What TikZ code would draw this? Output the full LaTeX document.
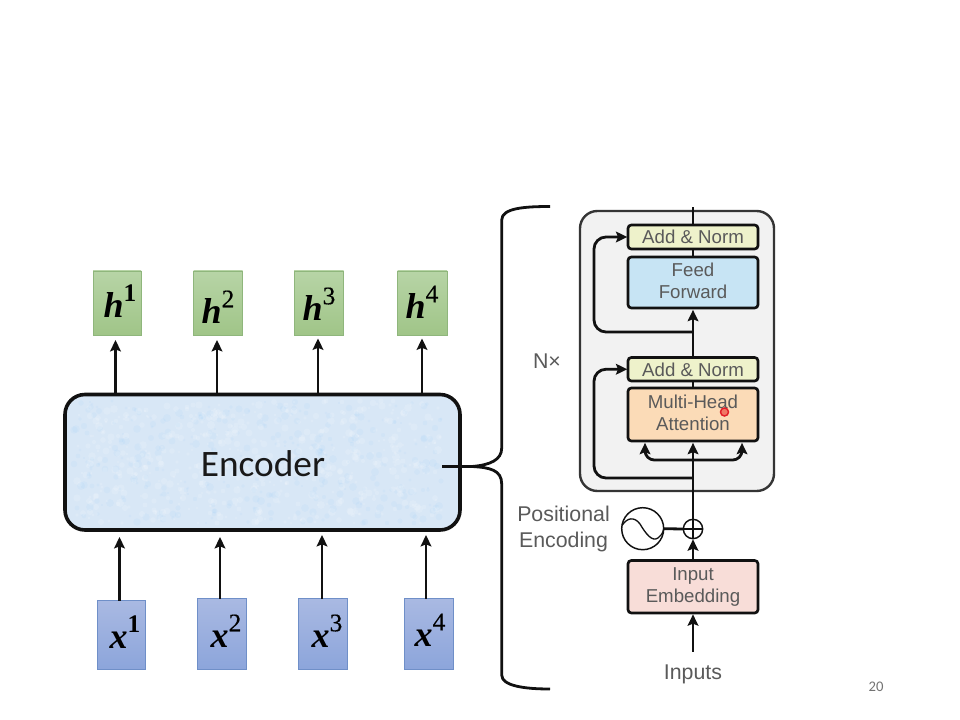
\documentclass[tikz,border=0pt]{standalone}
\usepackage{fontspec}
\setmainfont{Liberation Sans}
\newfontfamily\carl{Carlito}
\newfontfamily\serifb{Liberation Serif}
\newfontfamily\serifm[FakeBold=0.5]{Liberation Serif}
\usetikzlibrary{arrows.meta,calc,shapes.geometric}
\definecolor{linek}{HTML}{111111}
\definecolor{txtg}{HTML}{5A5A5A}
\tikzset{
  arr/.style={draw=linek,line width=2.1pt,-{Stealth[length=8.5pt,width=8pt,inset=1.5pt]}},
  plainln/.style={draw=linek,line width=2.1pt},
  hbox/.style={draw=hedge,top color=hTop,bottom color=hBot,line width=0.7pt},
  xbox/.style={draw=xedge,top color=xTop,bottom color=xBot,line width=0.7pt},
  tfbox/.style={draw=linek,line width=2pt,rounded corners=2.5pt},
  tftext/.style={text=txtg,align=center,inner sep=0pt,font=\fontsize{14}{16.5}\selectfont},
  lab/.style={text=txtg,align=center,inner sep=0pt},
  sym/.style={text=black,inner sep=0pt,font=\serifb\fontsize{27}{28}\selectfont\bfseries\itshape},
}
\definecolor{hedge}{HTML}{8FB67C}
\definecolor{hTop}{HTML}{B7D4A6}
\definecolor{hBot}{HTML}{A0C588}
\definecolor{xedge}{HTML}{6F8FC8}
\definecolor{xTop}{HTML}{A9B9E2}
\definecolor{xBot}{HTML}{8CA5DB}
\definecolor{encfill}{RGB}{216,231,246}
\newcommand{\boxn}[7]{\node[#2,inner sep=0pt,outer sep=0pt,minimum width={(#5-#3)*0.75pt},minimum height={(#6-#4)*0.75pt}] (#1) at ({(#3+#5)/2},{(#4+#6)/2}) {#7};}
\newcommand{\supb}[1]{\raisebox{0.45em}{\serifb\fontsize{19}{20}\selectfont\bfseries\upshape #1}}
\newcommand{\supm}[1]{\raisebox{0.45em}{\serifm\fontsize{19}{20}\selectfont\mdseries\upshape #1}}
\begin{document}
\begin{tikzpicture}[x=0.75pt,y=-0.75pt]
\useasboundingbox[fill=white] (0,0) rectangle (960,720);
% --- left: encoder
\boxn{encbg}{fill=encfill,rounded corners=15pt}{65}{394.5}{460}{530}{}
\pgfmathsetseed{7}
\foreach \i in {1,...,900}{
  \pgfmathsetmacro{\px}{74+random(0,367)}
  \pgfmathsetmacro{\py}{401+random(0,122)}
  \pgfmathsetmacro{\pr}{1+rnd*3}
  \pgfmathsetmacro{\pc}{rnd}
  \ifdim\pc pt<0.6pt
    \fill[white,opacity=0.15] (\px,\py) circle[radius=\pr];
  \else
    \fill[blue!45!cyan,opacity=0.03] (\px,\py) circle[radius=\pr];
  \fi
}
\boxn{enc}{draw=linek,line width=2.7pt,rounded corners=15pt}{65}{394.5}{460}{530}{}
\node[inner sep=0pt,font=\carl\fontsize{28}{30}\selectfont,text=black!90] (enctxt) at (263,464) {Encoder};
\boxn{h1}{hbox}{93}{271}{141}{335}{}
\boxn{h2}{hbox}{193.5}{271}{242.5}{335}{}
\boxn{h3}{hbox}{294}{271}{343.5}{335}{}
\boxn{h4}{hbox}{397.5}{271}{447}{335}{}
\boxn{x1}{xbox}{97}{600.5}{145.5}{669.5}{}
\boxn{x2}{xbox}{197.5}{598.5}{246}{669.5}{}
\boxn{x3}{xbox}{298}{598.5}{347.5}{669.5}{}
\boxn{x4}{xbox}{404}{598.5}{453.5}{669.5}{}
\node[sym] (th1) at (120,301) {h\supb{1}};
\node[sym] (th2) at (218,307) {h\supm{2}};
\node[sym] (th3) at (319,304) {h\supm{3}};
\node[sym] (th4) at (422,302) {h\supm{4}};
\node[sym] (tx1) at (125,632) {x\supb{1}};
\node[sym] (tx2) at (226,631) {x\supm{2}};
\node[sym] (tx3) at (327,631) {x\supm{3}};
\node[sym] (tx4) at (430,630) {x\supm{4}};
% arrows encoder -> h
\coordinate (e1) at (115.5,394);
\coordinate (e2) at (217,394);
\coordinate (e3) at (318,394);
\coordinate (e4) at (422,394);
\draw[arr,shorten >=3.75pt] (e1) -- (e1 |- h1.south);
\draw[arr,shorten >=3.75pt] (e2) -- (e2 |- h2.south);
\draw[arr,shorten >=2.6pt] (e3) -- (e3 |- h3.south);
\draw[arr,shorten >=2.6pt] (e4) -- (e4 |- h4.south);
% arrows x -> encoder
\coordinate (b1) at (119.5,600.5);
\coordinate (b2) at (220,598.5);
\coordinate (b3) at (322,598.5);
\coordinate (b4) at (426,598.5);
\draw[arr,shorten >=5.25pt] (b1) -- (b1 |- enc.south);
\draw[arr,shorten >=5.25pt] (b2) -- (b2 |- enc.south);
\draw[arr,shorten >=3.75pt] (b3) -- (b3 |- enc.south);
\draw[arr,shorten >=3.75pt] (b4) -- (b4 |- enc.south);
% --- brace
\coordinate (bt) at (550,206.5);
\coordinate (bb) at (550,689);
\coordinate (tip) at (472,466.5);
\coordinate (es) at (442,466.5);
\draw[plainln,line join=round] (bt) .. controls (525,206.5) and (501.7,208) .. (501.7,220)
  -- (501.7,448) .. controls (501.7,460) and (490,465) .. (tip)
  .. controls (490,467.5) and (501.7,470) .. (501.7,484)
  -- (501.7,675) .. controls (501.7,686) and (525,689) .. (bb);
\draw[plainln] (es) -- (tip);
\node[lab,font=\fontsize{16}{18}\selectfont] (nx) at (547,361) {N×};
% --- right: transformer block
\boxn{blk}{draw=linek!85,fill=black!5,line width=1.8pt,rounded corners=13pt}{580}{211}{774}{491}{}
\coordinate (top) at (693,207);
\coordinate (r1s) at (693,332);
\coordinate (r1c) at (594,332);
\coordinate (r2s) at (693,478);
\coordinate (r2c) at (594,478);
\coordinate (as) at (693,460);
\coordinate (am1) at (645,441);
\coordinate (am2) at (742,441);
\boxn{an2}{tfbox,fill={rgb,255:red,238;green,242;blue,203}}{628}{225}{758}{249}{}
\boxn{ff}{tfbox,fill={rgb,255:red,199;green,228;blue,244}}{628}{257}{758}{308}{}
\boxn{an1}{tfbox,fill={rgb,255:red,238;green,242;blue,203}}{628}{357.5}{758}{381}{}
\boxn{mha}{tfbox,fill={rgb,255:red,251;green,219;blue,183}}{628}{388}{758}{441}{}
\boxn{ie}{tfbox,fill={rgb,255:red,248;green,221;blue,216}}{628}{560.5}{758}{613}{}
\node[tftext] (an2t) at (693,236.8) {Add \& Norm};
\node[tftext] (fft) at (693,280.5) {Feed\\Forward};
\node[tftext] (an1t) at (693,369.5) {Add \& Norm};
\node[tftext] (mhat) at (693,412.5) {Multi-Head\\Attention};
\node[tftext] (iet) at (693,587.5) {Input\\Embedding};
\node[draw=linek,line width=1.1pt,circle,fill=white,minimum size=14.5pt,inner sep=0pt,outer sep=0pt] (pe) at (693,529) {};
\draw[line width=1pt,linek] (pe.north) -- (pe.south) (pe.west) -- (pe.east);
\node[draw=linek,line width=1.1pt,circle,fill=white,minimum size=31.5pt,inner sep=0pt,outer sep=0pt] (sine) at (642.7,528.7) {};
\draw[line width=1pt,linek] (sine.west) ++(0.5,-3.5) .. controls (627,518) and (634,516) .. (640,524)
  .. controls (646,534) and (652,542) .. (658,538) .. controls (661,536) and (663,533) .. (sine.east);
\draw[plainln] (sine.east) -- (pe.west);
\node[lab,font=\fontsize{16}{20.2}\selectfont] (petxt) at (563.5,529) {Positional\\Encoding};
\node[lab,font=\fontsize{16}{18}\selectfont] (intxt) at (693,674) {Inputs};
\coordinate (inb) at (693,651.5);
% connectors
\draw[arr,shorten >=1pt] (inb) -- (ie.south);
\draw[arr,shorten >=0.5pt] (ie.north) -- (pe.south);
\draw[plainln] (pe.north) -- (as);
\draw[arr,shorten >=1.4pt] (as) -- (mha.south);
\draw[arr,rounded corners=7pt,shorten >=1.4pt] (as) -| (am1);
\draw[arr,rounded corners=7pt,shorten >=1.4pt] (as) -| (am2);
\draw[plainln] (mha.north) -- (an1.south);
\draw[arr,shorten >=1.4pt] (an1.north) -- (ff.south);
\draw[plainln] (ff.north) -- (an2.south);
\draw[plainln] (an2.north) -- (top);
\draw[arr,rounded corners=9pt,shorten >=0.5pt] (r2s) -- (r2c) |- (an1.west);
\draw[arr,rounded corners=9pt,shorten >=0.5pt] (r1s) -- (r1c) |- (an2.west);
% pointer
\node[draw={rgb,255:red,225;green,30;blue,40},fill={rgb,255:red,240;green,120;blue,100},line width=1.1pt,circle,minimum size=6pt,inner sep=0pt] (ptr) at (724.5,412) {};
% page number
\node[inner sep=0pt,text=black!55,font=\carl\fontsize{11}{12}\selectfont] (pg) at (876,687) {20};
\end{tikzpicture}
\end{document}
